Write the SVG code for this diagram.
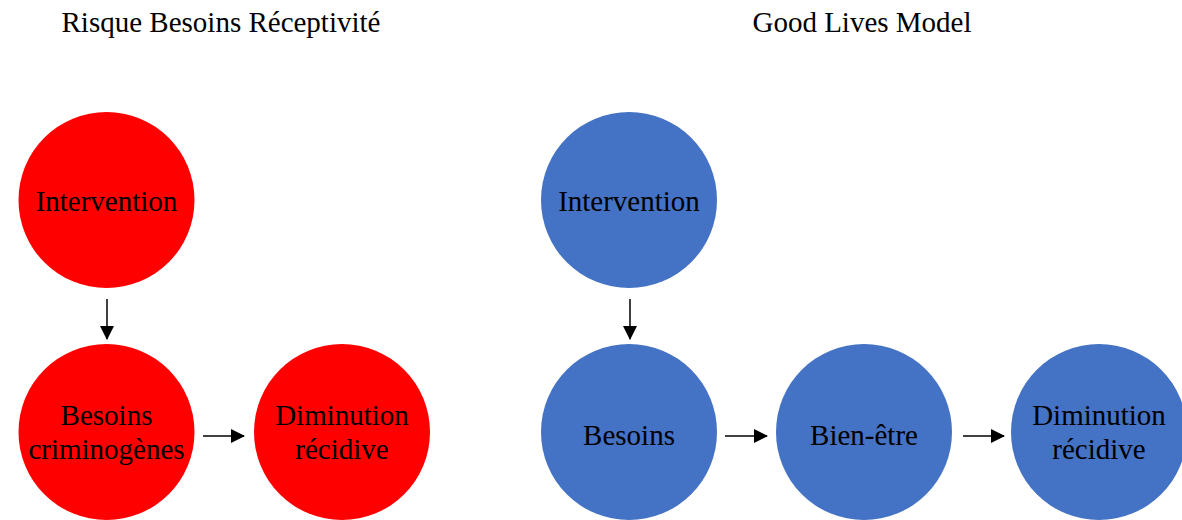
<svg xmlns="http://www.w3.org/2000/svg" width="1182" height="520" viewBox="0 0 1182 520">
<style>
text{font-family:"Liberation Serif","Times New Roman",serif;font-size:29px;fill:#000;text-anchor:middle}
.red{fill:#FF0000}
.blue{fill:#4472C4}
.arr{stroke:#000;stroke-width:1.5;fill:none;marker-end:url(#ah)}
</style>
<defs>
<marker id="ah" markerWidth="14" markerHeight="14" refX="13" refY="7" orientation="auto" markerUnits="userSpaceOnUse" orient="auto">
<path d="M0,0 L14,7 L0,14 Z" fill="#000"/>
</marker>
</defs>
<rect width="1182" height="520" fill="#fff"/>
<g id="titles">
<text x="221" y="32">Risque Besoins Réceptivité</text>
<text x="862" y="32">Good Lives Model</text>
</g>
<g id="connectors">
<line class="arr" x1="107" y1="299" x2="107" y2="339"/>
<line class="arr" x1="203" y1="436" x2="244" y2="436"/>
<line class="arr" x1="630" y1="299" x2="630" y2="339"/>
<line class="arr" x1="725" y1="436" x2="767" y2="436"/>
<line class="arr" x1="963" y1="436" x2="1004" y2="436"/>
</g>
<g id="rnb-intervention"><circle class="red" cx="106.5" cy="200" r="88"/><text x="106.5" y="211">Intervention</text></g>
<g id="rnb-besoins"><circle class="red" cx="106.5" cy="432" r="88"/><text x="106.5" y="425">Besoins</text><text x="106.5" y="459">criminogènes</text></g>
<g id="rnb-diminution"><circle class="red" cx="342" cy="432" r="88"/><text x="342" y="425">Diminution</text><text x="342" y="459">récidive</text></g>
<g id="glm-intervention"><circle class="blue" cx="629" cy="200" r="88"/><text x="629" y="211">Intervention</text></g>
<g id="glm-besoins"><circle class="blue" cx="629" cy="432" r="88"/><text x="629" y="445">Besoins</text></g>
<g id="glm-bienetre"><circle class="blue" cx="864" cy="432" r="88"/><text x="864" y="445">Bien-être</text></g>
<g id="glm-diminution"><circle class="blue" cx="1099" cy="432" r="88"/><text x="1099" y="425">Diminution</text><text x="1099" y="459">récidive</text></g>
</svg>
